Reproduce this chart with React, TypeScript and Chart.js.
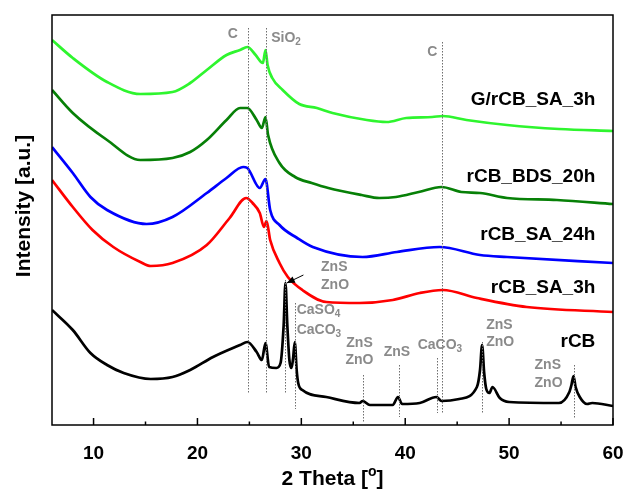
import { useEffect, useRef } from 'react';
import { Chart, registerables } from 'chart.js';

Chart.register(...registerables);

// ---- data (2θ in degrees, stacked intensity in a.u.) ----
const thetaGrCB = [6.0, 8.0, 11.3, 14.5, 17.6, 19.3, 20.9, 22.8, 24.1, 24.8, 25.6, 26.3, 26.55, 26.75, 27.2, 28.2, 29.8, 31.5, 33.0, 36.3, 38.2, 40.1, 42.6, 43.6, 45.9, 49.8, 54.8, 60.0];
const intGrCB = [385, 367, 343, 331, 333, 342, 355, 370, 375, 378, 370, 362, 375, 360, 347, 335, 321, 317, 312, 305, 303, 307, 308, 309, 305, 300, 296, 294];

const thetaBDS = [6.0, 8.0, 11.3, 14.5, 17.6, 19.3, 20.9, 22.8, 24.1, 24.8, 25.7, 26.2, 26.55, 26.8, 27.9, 29.4, 31.0, 32.6, 35.8, 37.5, 39.1, 41.3, 43.5, 45.4, 47.2, 49.8, 54.6, 60.0];
const intBDS = [335, 312, 285, 265, 267, 273, 285, 305, 317, 317, 305, 297, 308, 290, 262, 248, 242, 237, 230, 227, 228, 233, 238, 233, 232, 227, 225, 221];

const thetaSA24 = [6.0, 8.0, 9.7, 11.3, 15.1, 17.6, 20.9, 22.8, 24.4, 24.8, 26.0, 26.55, 27.0, 27.9, 29.6, 31.1, 35.9, 39.2, 43.3, 47.2, 49.8, 60.0];
const intSA24 = [278, 252, 228, 215, 201, 208, 232, 247, 258, 257, 237, 246, 215, 200, 187, 178, 168, 173, 178, 170, 168, 162];

const thetaSA3 = [6.0, 8.0, 9.9, 11.9, 14.5, 15.5, 17.6, 20.9, 23.1, 24.7, 25.3, 26.0, 26.4, 26.65, 27.0, 27.9, 28.7, 30.1, 32.4, 35.6, 38.8, 41.4, 43.6, 46.9, 51.7, 60.0];
const intSA3 = [245, 218, 195, 178, 163, 159, 162, 180, 207, 227, 222, 212, 198, 204, 185, 162, 148, 135, 123, 122, 125, 132, 135, 127, 118, 113];

const thetaRCB = [6.0, 8.0, 9.7, 11.3, 12.9, 15.5, 17.6, 19.3, 21.5, 24.1, 24.8, 25.7, 26.2, 26.55, 26.9, 27.6, 28.0, 28.3, 28.47, 28.65, 28.85, 29.05, 29.2, 29.37, 29.55, 29.7, 30.1, 32.4, 35.6, 35.9, 36.6, 38.8, 39.3, 39.7, 41.4, 43.0, 43.5, 45.2, 46.9, 47.2, 47.4, 47.6, 47.8, 48.1, 48.4, 49.1, 50.0, 54.8, 55.8, 56.0, 56.2, 56.4, 56.8, 57.5, 58.0, 60.0];
const intRCB = [115, 95, 72, 60, 52, 46, 48, 55, 68, 80, 83, 73, 65, 82, 58, 57, 62, 100, 142, 100, 65, 57, 66, 83, 55, 42, 35, 28, 22, 24, 20, 20, 28, 21, 22, 28, 24, 26, 38, 55, 80, 52, 36, 32, 38, 27, 23, 22, 33, 40, 49, 38, 28, 21, 22, 19];

const seriesNames = ['G/rCB_SA_3h', 'rCB_BDS_20h', 'rCB_SA_24h', 'rCB_SA_3h', 'rCB'];
const seriesColors = ['#2ef52e', '#078007', '#0000ff', '#ff0000', '#000000'];
const seriesTheta = [thetaGrCB, thetaBDS, thetaSA24, thetaSA3, thetaRCB];
const seriesInt = [intGrCB, intBDS, intSA24, intSA3, intRCB];
const seriesLabelY = [325, 248, 190, 137, 83];

const xMajorTicks = [10, 20, 30, 40, 50, 60];
const xMinorTicks = [15, 25, 35, 45, 55];

// reference lines: 2θ position, top and bottom in intensity units
const refPos = [24.82, 26.58, 43.53, 28.47, 29.37, 35.9, 39.37, 43.1, 47.4, 56.2];
const refTop = [397, 397, 383, 145, 122, 50, 60, 67, 83, 60];
const refBottom = [32, 32, 12, 32, 16, 2, 8, 12, 12, 6];

// phase labels: text, subscript, 2θ, intensity, alignment
const phaseText = ['C', 'SiO', 'C', 'ZnS', 'ZnO', 'CaSO', 'CaCO', 'ZnS', 'ZnO', 'ZnS', 'CaCO', 'ZnS', 'ZnO', 'ZnS', 'ZnO'];
const phaseSub = ['', '2', '', '', '', '4', '3', '', '', '', '3', '', '', '', ''];
const phaseTheta = [23.4, 27.1, 42.6, 31.9, 31.9, 29.55, 29.55, 35.6, 35.6, 39.2, 41.2, 47.8, 47.8, 52.45, 52.45];
const phaseInt = [391, 387, 373, 158, 140, 115, 95, 82, 65, 73, 80, 100, 83, 60, 42];
const phaseAlign = ['center', 'left', 'center', 'left', 'left', 'left', 'left', 'center', 'center', 'center', 'left', 'left', 'left', 'left', 'left'];

// arrow from label to the main rCB peak
const arrowFrom = [30.2, 150];
const arrowTo = [28.6, 142];

const FONT = "'Liberation Sans', Arial, Helvetica, sans-serif";

function drawRich(ctx: CanvasRenderingContext2D, main: string, sub: string, x: number, y: number, align: string, size: number, weight: string, color: string) {
  ctx.font = `${weight} ${size}px ${FONT}`;
  const w1 = ctx.measureText(main).width;
  const subSize = Math.round(size * 0.68);
  ctx.font = `${weight} ${subSize}px ${FONT}`;
  const w2 = sub ? ctx.measureText(sub).width : 0;
  const total = w1 + w2;
  let sx = x;
  if (align === 'center') sx = x - total / 2;
  else if (align === 'right') sx = x - total;
  ctx.fillStyle = color;
  ctx.textAlign = 'left';
  ctx.textBaseline = 'middle';
  ctx.font = `${weight} ${size}px ${FONT}`;
  ctx.fillText(main, sx, y);
  if (sub) {
    ctx.font = `${weight} ${subSize}px ${FONT}`;
    ctx.fillText(sub, sx + w1, y + size * 0.33);
  }
}

export default function App() {
  const ref = useRef<HTMLCanvasElement>(null);

  useEffect(() => {
    if (!ref.current) return;
    const decor = {
      id: 'xrdDecor',
      afterDatasetsDraw(chart: any) {
        const { ctx, chartArea: a, scales } = chart;
        const x = scales.x;
        const y = scales.y;
        ctx.save();
        // dotted reference lines
        ctx.strokeStyle = '#6e6e6e';
        ctx.lineWidth = 1;
        ctx.setLineDash([1.5, 1.5]);
        refPos.forEach((p, i) => {
          const px = Math.round(x.getPixelForValue(p)) + 0.5;
          ctx.beginPath();
          ctx.moveTo(px, y.getPixelForValue(refTop[i]));
          ctx.lineTo(px, y.getPixelForValue(refBottom[i]));
          ctx.stroke();
        });
        ctx.setLineDash([]);
        // arrow
        const ax0 = x.getPixelForValue(arrowFrom[0]);
        const ay0 = y.getPixelForValue(arrowFrom[1]);
        const ax1 = x.getPixelForValue(arrowTo[0]);
        const ay1 = y.getPixelForValue(arrowTo[1]);
        ctx.strokeStyle = '#000';
        ctx.fillStyle = '#000';
        ctx.lineWidth = 1;
        ctx.beginPath();
        ctx.moveTo(ax0, ay0);
        ctx.lineTo(ax1, ay1);
        ctx.stroke();
        const ang = Math.atan2(ay1 - ay0, ax1 - ax0);
        const hl = 8, hw = 3.5;
        ctx.beginPath();
        ctx.moveTo(ax1, ay1);
        ctx.lineTo(ax1 - hl * Math.cos(ang) + hw * Math.sin(ang), ay1 - hl * Math.sin(ang) - hw * Math.cos(ang));
        ctx.lineTo(ax1 - hl * Math.cos(ang) - hw * Math.sin(ang), ay1 - hl * Math.sin(ang) + hw * Math.cos(ang));
        ctx.closePath();
        ctx.fill();
        // phase labels
        phaseText.forEach((t, i) => {
          drawRich(ctx, t, phaseSub[i], x.getPixelForValue(phaseTheta[i]), y.getPixelForValue(phaseInt[i]), phaseAlign[i], 14, 'bold', '#8a8a8a');
        });
        // series labels
        seriesNames.forEach((n, i) => {
          drawRich(ctx, n, '', x.getPixelForValue(58.3), y.getPixelForValue(seriesLabelY[i]), 'right', 19, 'bold', '#000');
        });
        // frame
        ctx.strokeStyle = '#000';
        ctx.lineWidth = 1.5;
        ctx.strokeRect(a.left, a.top, a.right - a.left, a.bottom - a.top);
        // inward ticks
        xMajorTicks.forEach((v) => {
          const px = x.getPixelForValue(v);
          ctx.beginPath();
          ctx.moveTo(px, a.bottom);
          ctx.lineTo(px, a.bottom - 7);
          ctx.stroke();
        });
        xMinorTicks.forEach((v) => {
          const px = x.getPixelForValue(v);
          ctx.beginPath();
          ctx.moveTo(px, a.bottom);
          ctx.lineTo(px, a.bottom - 3.5);
          ctx.stroke();
        });
        // x title with superscript
        ctx.font = `bold 21px ${FONT}`;
        const p1 = '2 Theta [';
        const p3 = ']';
        const w1 = ctx.measureText(p1).width;
        const w3 = ctx.measureText(p3).width;
        ctx.font = `bold 14px ${FONT}`;
        const w2 = ctx.measureText('o').width;
        const cx = (a.left + a.right) / 2;
        const ty = 479;
        const sx = cx - (w1 + w2 + w3) / 2;
        ctx.fillStyle = '#000';
        ctx.textAlign = 'left';
        ctx.textBaseline = 'middle';
        ctx.font = `bold 21px ${FONT}`;
        ctx.fillText(p1, sx, ty);
        ctx.font = `bold 14px ${FONT}`;
        ctx.fillText('o', sx + w1, ty - 7);
        ctx.font = `bold 21px ${FONT}`;
        ctx.fillText(p3, sx + w1 + w2, ty);
        // y title
        ctx.save();
        ctx.translate(24, 206);
        ctx.rotate(-Math.PI / 2);
        ctx.font = `bold 21px ${FONT}`;
        ctx.textAlign = 'center';
        ctx.textBaseline = 'middle';
        ctx.fillText('Intensity [a.u.]', 0, 0);
        ctx.restore();
        ctx.restore();
      },
    };

    const chart = new Chart(ref.current, {
      type: 'line',
      data: {
        datasets: seriesNames.map((n, i) => ({
          label: n,
          data: seriesTheta[i].map((t, j) => ({ x: t, y: seriesInt[i][j] })),
          borderColor: seriesColors[i],
          backgroundColor: seriesColors[i],
          borderWidth: 2.7,
          pointRadius: 0,
          fill: false,
          cubicInterpolationMode: 'monotone' as const,
        })),
      },
      options: {
        responsive: false,
        animation: false,
        devicePixelRatio: 1,
        layout: { padding: { top: 15, right: 11, left: 0, bottom: 0 } },
        plugins: { legend: { display: false }, tooltip: { enabled: false }, title: { display: false } },
        scales: {
          x: {
            type: 'linear',
            min: 6,
            max: 60,
            afterBuildTicks: (s: any) => {
              s.ticks = xMajorTicks.map((v) => ({ value: v }));
            },
            afterFit: (s: any) => {
              s.height = 68;
              s.paddingLeft = 0;
              s.paddingRight = 0;
            },
            grid: { display: false },
            border: { display: false },
            ticks: {
              padding: 9,
              color: '#000',
              font: { family: FONT, size: 19, weight: 'bold' },
              maxRotation: 0,
              autoSkip: false,
            },
            title: { display: false },
          },
          y: {
            type: 'linear',
            min: 0,
            max: 410,
            afterFit: (s: any) => {
              s.width = 52;
              s.paddingTop = 0;
              s.paddingBottom = 0;
            },
            grid: { display: false },
            border: { display: false },
            ticks: { display: false },
            title: { display: false },
          },
        },
      },
      plugins: [decor],
    } as any);
    return () => chart.destroy();
  }, []);

  return (
    <div style={{ position: 'absolute', left: 0, top: 0, width: 624, height: 493, background: '#fff' }}>
      <canvas ref={ref} width={624} height={493} />
    </div>
  );
}
